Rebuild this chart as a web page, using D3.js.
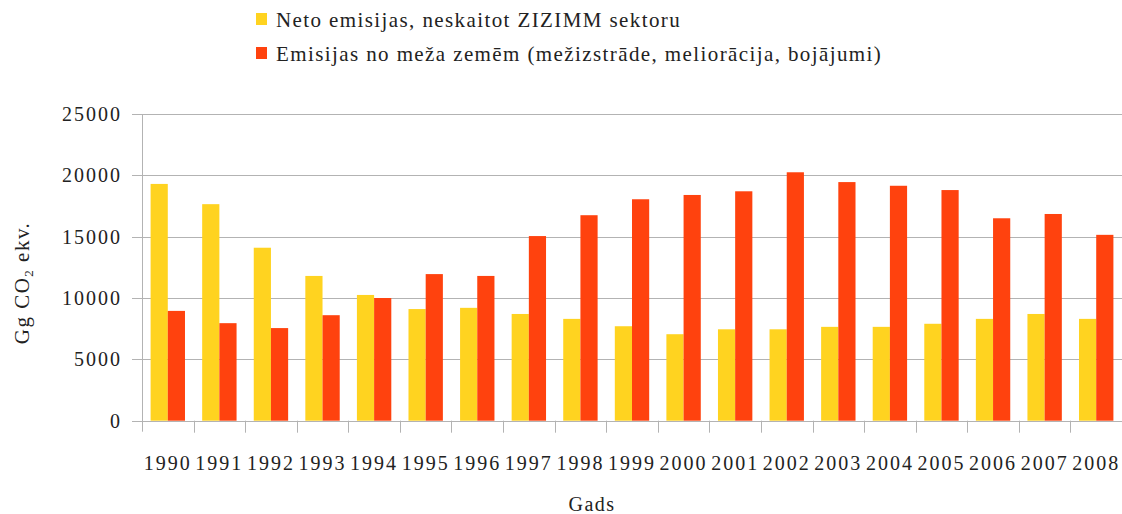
<!DOCTYPE html>
<html>
<head>
<meta charset="utf-8">
<script src="https://cdn.jsdelivr.net/npm/d3@7"></script>
<style>
  body { margin: 0; background: #fff; }
  text { font-family: "Liberation Serif", serif; fill: #222; }
</style>
</head>
<body>
<script>
// data
var years = ["1990","1991","1992","1993","1994","1995","1996","1997","1998","1999",
             "2000","2001","2002","2003","2004","2005","2006","2007","2008"];
var netoEmisijas = [19300, 17650, 14100, 11800, 10250, 9100, 9200, 8700, 8300, 7700,
                    7050, 7450, 7450, 7650, 7650, 7900, 8300, 8700, 8300];
var mezaZemes = [8950, 7950, 7550, 8600, 10000, 11950, 11800, 15050, 16750, 18050,
                 18400, 18700, 20250, 19450, 19150, 18800, 16500, 16850, 15150];
var yTicks = [0, 5000, 10000, 15000, 20000, 25000];
var seriesNames = ["Neto emisijas, neskaitot ZIZIMM sektoru",
                   "Emisijas no meža zemēm (mežizstrāde, meliorācija, bojājumi)"];
var colors = ["#ffd320", "#ff420e"];

var W = 1122, H = 514;
var plotLeft = 142, plotRight = 1122, plotTop = 114, plotBottom = 420.7;

var svg = d3.select("body").append("svg")
    .attr("width", W)
    .attr("height", H);

var x = d3.scaleBand().domain(years).range([plotLeft, plotRight]).padding(0);
var xSub = d3.scaleBand().domain([0, 1]).range([0, x.bandwidth()]).paddingInner(0).paddingOuter(0.5);
var y = d3.scaleLinear().domain([0, 25000]).range([plotBottom, plotTop]);

// gridlines
svg.append("g")
    .selectAll("line")
    .data(yTicks)
    .enter().append("line")
    .attr("x1", plotLeft - 10)
    .attr("x2", plotRight)
    .attr("y1", function(d) { return Math.round(y(d)) + 0.5; })
    .attr("y2", function(d) { return Math.round(y(d)) + 0.5; })
    .attr("stroke", "#b3b3b3")
    .attr("stroke-width", 1);

// y tick labels
svg.append("g")
    .selectAll("text")
    .data(yTicks)
    .enter().append("text")
    .attr("x", plotLeft - 20)
    .attr("y", function(d) { return y(d); })
    .attr("dy", "0.35em")
    .attr("text-anchor", "end")
    .attr("font-size", "20px")
    .attr("letter-spacing", "2px")
    .text(function(d) { return d; });

// bars
var data = years.map(function(yr, i) { return { year: yr, vals: [netoEmisijas[i], mezaZemes[i]] }; });

var groups = svg.append("g")
    .selectAll("g")
    .data(data)
    .enter().append("g")
    .attr("transform", function(d) { return "translate(" + x(d.year) + ",0)"; });

groups.selectAll("rect")
    .data(function(d) { return d.vals.map(function(v, k) { return { k: k, v: v }; }); })
    .enter().append("rect")
    .attr("x", function(d) { return xSub(d.k); })
    .attr("width", xSub.bandwidth())
    .attr("y", function(d) { return y(d.v); })
    .attr("height", function(d) { return y(0) - y(d.v); })
    .attr("fill", function(d) { return colors[d.k]; });

// axis lines
svg.append("line")
    .attr("x1", plotLeft + 0.5).attr("x2", plotLeft + 0.5)
    .attr("y1", plotTop).attr("y2", plotBottom + 11)
    .attr("stroke", "#b3b3b3");

var bounds = years.slice(1).map(function(yr) { return x(yr); });
svg.append("g")
    .selectAll("line")
    .data(bounds)
    .enter().append("line")
    .attr("x1", function(d) { return Math.round(d) + 0.5; })
    .attr("x2", function(d) { return Math.round(d) + 0.5; })
    .attr("y1", plotBottom)
    .attr("y2", plotBottom + 12)
    .attr("stroke", "#b3b3b3");

// x labels
svg.append("g")
    .attr("transform", "translate(0," + plotBottom + ")")
    .call(d3.axisBottom(x).tickSize(0).tickPadding(35))
    .call(function(g) { g.select(".domain").remove(); })
    .selectAll("text")
    .attr("font-size", "20px")
    .attr("letter-spacing", "2px")
    .attr("font-family", "Liberation Serif, serif")
    .attr("fill", "#222");

// axis titles
svg.append("text")
    .attr("x", 592)
    .attr("y", 511)
    .attr("text-anchor", "middle")
    .attr("font-size", "20px")
    .attr("letter-spacing", "1.5px")
    .text("Gads");

svg.append("text")
    .attr("transform", "translate(29,283) rotate(-90)")
    .attr("text-anchor", "middle")
    .attr("font-size", "21px")
    .attr("letter-spacing", "1.5px")
    .html("Gg CO<tspan font-size='13px' dy='4'>2</tspan><tspan dy='-4'> ekv.</tspan>");

// legend
var legend = svg.append("g")
    .selectAll("g")
    .data(seriesNames)
    .enter().append("g")
    .attr("transform", function(d, i) { return "translate(256," + (13 + i * 34) + ")"; });

legend.append("rect")
    .attr("width", 11)
    .attr("height", 12)
    .attr("fill", function(d, i) { return colors[i]; });

legend.append("text")
    .attr("x", 20)
    .attr("y", 14)
    .attr("font-size", "21px")
    .attr("letter-spacing", "1.4px")
    .text(function(d) { return d; });
</script>
</body>
</html>
